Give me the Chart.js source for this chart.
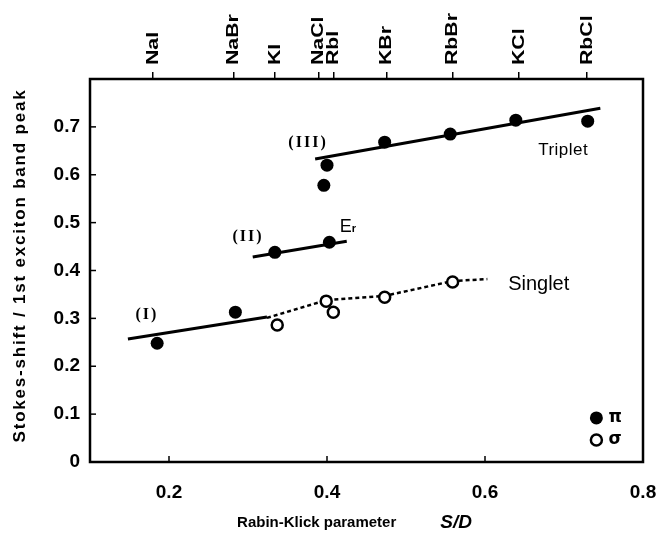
<!DOCTYPE html>
<html><head><meta charset="utf-8">
<script src="https://cdn.jsdelivr.net/npm/chart.js@4.4.0/dist/chart.umd.min.js"></script>
<style>html,body{margin:0;padding:0;background:#fff;}canvas{display:block;}</style>
</head><body>
<canvas id="c" width="658" height="534"></canvas>
<script>
// ---- data ----
const crystalNames = ['NaI','NaBr','KI','NaCl','RbI','KBr','RbBr','KCl','RbCl'];
const crystalSD    = [0.180,0.282,0.334,0.389,0.408,0.475,0.559,0.643,0.729];

const piSD    = [0.185,0.284,0.334,0.403,0.396,0.400,0.473,0.556,0.639,0.730];
const piShift = [0.248,0.313,0.438,0.459,0.578,0.620,0.668,0.685,0.714,0.712];

const sigmaSD    = [0.337,0.399,0.408,0.473,0.559];
const sigmaShift = [0.286,0.336,0.313,0.344,0.376];

const fitI_SD     = [0.148,0.324];
const fitI_Shift  = [0.257,0.303];
const fitII_SD    = [0.306,0.425];
const fitII_Shift = [0.428,0.461];
const fitIII_SD   = [0.385,0.746];
const fitIII_Shift= [0.633,0.739];
const singletSD    = [0.324,0.399,0.473,0.559,0.603];
const singletShift = [0.301,0.338,0.347,0.378,0.382];

const xTickValues = [0.2,0.4,0.6,0.8];
const yTickValues = [0,0.1,0.2,0.3,0.4,0.5,0.6,0.7];

const yTitle = 'Stokes-shift / 1st exciton band peak';
const xTitleMain = 'Rabin-Klick parameter';
const xTitleVar = 'S/D';

// annotation texts (placed in data units)
const notes = [
  {text:'(I)',     x:0.172, y:0.307, font:'bold 16px "Liberation Serif", serif', ls:'2px'},
  {text:'(II)',    x:0.300, y:0.470, font:'bold 16px "Liberation Serif", serif', ls:'2px'},
  {text:'(III)',   x:0.376, y:0.666, font:'bold 16px "Liberation Serif", serif', ls:'2px'},
  {text:'Triplet', x:0.699, y:0.651, font:'17px "Liberation Sans", Arial, sans-serif', ls:'0.5px'},
  {text:'Singlet', x:0.668, y:0.370, font:'20px "Liberation Sans", Arial, sans-serif', ls:'0px'}
];

const pts = (xs, ys) => xs.map((x, i) => ({x, y: ys[i]}));
const SANS = '"Liberation Sans", Arial, sans-serif';

const decor = {
  id: 'decor',
  afterDraw(chart) {
    const {ctx, chartArea: a, scales: {x, y, xTop}} = chart;
    ctx.save();
    ctx.strokeStyle = '#000';
    ctx.fillStyle = '#000';
    ctx.lineWidth = 2.5;
    ctx.strokeRect(a.left, a.top, a.right - a.left, a.bottom - a.top);
    // inward tick marks
    ctx.lineWidth = 1.5;
    yTickValues.forEach(v => {
      const py = y.getPixelForValue(v);
      ctx.beginPath(); ctx.moveTo(a.left, py); ctx.lineTo(a.left + 6, py); ctx.stroke();
    });
    xTickValues.forEach(v => {
      if (v >= 0.8) return;
      const px = x.getPixelForValue(v);
      ctx.beginPath(); ctx.moveTo(px, a.bottom); ctx.lineTo(px, a.bottom - 6); ctx.stroke();
    });
    // top crystal labels (rotated, stretched along the baseline like the original print)
    crystalNames.forEach((name, i) => {
      const px = xTop.getPixelForValue(crystalSD[i]);
      ctx.save();
      ctx.translate(px, a.top - 14);
      ctx.rotate(-Math.PI / 2);
      ctx.scale(1.25, 1);
      ctx.font = 'bold 17px ' + SANS;
      ctx.textAlign = 'left';
      ctx.textBaseline = 'middle';
      ctx.fillText(name, 0, 0);
      ctx.restore();
    });
    // annotations
    ctx.textAlign = 'center';
    ctx.textBaseline = 'middle';
    notes.forEach(n => {
      ctx.font = n.font;
      ctx.letterSpacing = n.ls || '0px';
      ctx.fillText(n.text, x.getPixelForValue(n.x), y.getPixelForValue(n.y));
    });
    ctx.letterSpacing = '0px';
    // E_r label
    const ex = x.getPixelForValue(0.416), ey = y.getPixelForValue(0.495);
    ctx.textAlign = 'left';
    ctx.textBaseline = 'alphabetic';
    ctx.font = '18px ' + SANS;
    ctx.fillText('E', ex, ey + 7);
    const ew = ctx.measureText('E').width;
    ctx.font = 'bold 11px ' + SANS;
    ctx.fillText('r', ex + ew, ey + 7);
    // legend
    const lx = x.getPixelForValue(0.741);
    const ly1 = y.getPixelForValue(0.092), ly2 = y.getPixelForValue(0.046);
    ctx.beginPath(); ctx.arc(lx, ly1, 6.5, 0, Math.PI * 2); ctx.fill();
    ctx.lineWidth = 2.5;
    ctx.beginPath(); ctx.arc(lx, ly2, 5.5, 0, Math.PI * 2); ctx.fillStyle = '#fff'; ctx.fill(); ctx.stroke();
    ctx.fillStyle = '#000';
    ctx.font = 'bold 17px "DejaVu Sans", sans-serif';
    ctx.textBaseline = 'middle';
    ctx.fillText('π', lx + 12, ly1);
    ctx.fillText('σ', lx + 12, ly2);
    // y-axis title
    ctx.save();
    ctx.translate(20, (a.top + a.bottom) / 2 - 5);
    ctx.rotate(-Math.PI / 2);
    ctx.textAlign = 'center';
    ctx.textBaseline = 'middle';
    ctx.font = 'bold 17px ' + SANS;
    ctx.letterSpacing = '1.8px';
    ctx.fillText(yTitle, 0, 0);
    ctx.restore();
    // x-axis title
    ctx.textAlign = 'left';
    ctx.textBaseline = 'middle';
    const ty = 523;
    ctx.font = 'bold 15px ' + SANS;
    const w1 = ctx.measureText(xTitleMain).width;
    ctx.font = 'italic bold 19px ' + SANS;
    const w2 = ctx.measureText(xTitleVar).width;
    const gap = 44;
    const start = (a.left + a.right) / 2 - (w1 + gap + w2) / 2 - 12;
    ctx.font = 'bold 15px ' + SANS;
    ctx.fillText(xTitleMain, start, ty);
    ctx.font = 'italic bold 19px ' + SANS;
    ctx.fillText(xTitleVar, start + w1 + gap, ty);
    ctx.restore();
  }
};

const noEdgePad = s => { s.paddingLeft = 0; s.paddingRight = 0; };

new Chart(document.getElementById('c'), {
  type: 'scatter',
  data: {
    datasets: [
      {label: 'π', data: pts(piSD, piShift), showLine: false, pointRadius: 6.5,
       pointBackgroundColor: '#000', pointBorderColor: '#000', pointBorderWidth: 0},
      {label: 'σ', data: pts(sigmaSD, sigmaShift), showLine: false, pointRadius: 5.5,
       pointBackgroundColor: '#fff', pointBorderColor: '#000', pointBorderWidth: 2.5},
      {label: '(I)', data: pts(fitI_SD, fitI_Shift), showLine: true, pointRadius: 0,
       borderColor: '#000', borderWidth: 3},
      {label: '(II)', data: pts(fitII_SD, fitII_Shift), showLine: true, pointRadius: 0,
       borderColor: '#000', borderWidth: 3},
      {label: '(III)', data: pts(fitIII_SD, fitIII_Shift), showLine: true, pointRadius: 0,
       borderColor: '#000', borderWidth: 3},
      {label: 'Singlet', data: pts(singletSD, singletShift), showLine: true, pointRadius: 0,
       borderColor: '#000', borderWidth: 2.5, borderDash: [4, 3]}
    ]
  },
  options: {
    responsive: false,
    animation: false,
    devicePixelRatio: 1,
    layout: {padding: {left: 0, right: 15, top: 0, bottom: 0}},
    plugins: {legend: {display: false}, tooltip: {enabled: false}},
    scales: {
      x: {
        type: 'linear', position: 'bottom', min: 0.1, max: 0.8,
        afterBuildTicks: s => { s.ticks = xTickValues.map(v => ({value: v})); },
        afterFit: s => { s.height = 72; noEdgePad(s); },
        grid: {display: false, drawTicks: false},
        border: {display: false},
        ticks: {padding: 19, color: '#000', font: {family: SANS, size: 19, weight: 'bold'},
                callback: v => v.toFixed(1), maxRotation: 0}
      },
      xTop: {
        type: 'linear', position: 'top', min: 0.1, max: 0.8,
        afterBuildTicks: s => { s.ticks = crystalSD.map(v => ({value: v})); },
        afterFit: s => { s.height = 79; noEdgePad(s); },
        grid: {display: true, drawOnChartArea: false, drawTicks: true, tickLength: 7, color: '#000', lineWidth: 1.5},
        border: {display: false},
        ticks: {display: false}
      },
      y: {
        type: 'linear', position: 'left', min: 0, max: 0.8,
        afterBuildTicks: s => { s.ticks = yTickValues.map(v => ({value: v})); },
        afterFit: s => { s.width = 90; },
        grid: {display: false, drawTicks: false},
        border: {display: false},
        ticks: {padding: 10, color: '#000', font: {family: SANS, size: 19, weight: 'bold'},
                callback: v => (v === 0 ? '0' : v.toFixed(1))}
      }
    }
  },
  plugins: [decor]
});
</script>
</body></html>
